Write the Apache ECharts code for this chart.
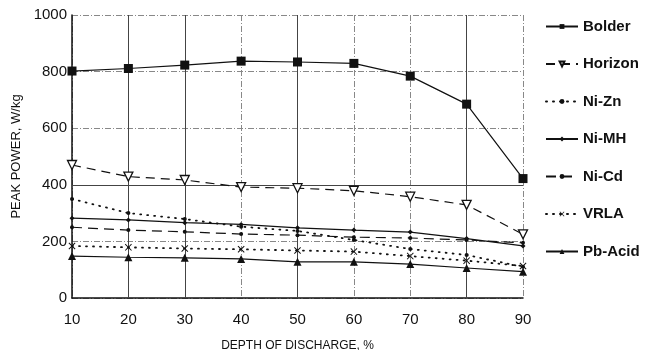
<!DOCTYPE html>
<html>
<head>
<meta charset="utf-8">
<script src="https://cdn.jsdelivr.net/npm/echarts@6/dist/echarts.min.js"></script>
<style>
  html, body { margin: 0; padding: 0; background: #fff; }
  #chart { width: 653px; height: 350px; }
</style>
</head>
<body>
<div id="chart"></div>
<script>
// depth of discharge, %
const depth = [10, 20, 30, 40, 50, 60, 70, 80, 90];

// peak power, W/kg
const bolder  = [802, 811, 823, 837, 834, 829, 784, 685, 422];
const horizon = [470, 429, 417, 392, 388, 379, 358, 329, 225];
const niZn    = [350, 300, 279, 252, 237, 205, 173, 152, 110];
const niMH    = [282, 276, 266, 260, 248, 240, 233, 210, 184];
const niCd    = [250, 240, 234, 226, 222, 215, 212, 205, 195];
const vrla    = [184, 179, 175, 172, 168, 164, 148, 132, 113];
const pbAcid  = [148, 144, 142, 138, 128, 128, 120, 106, 93];

// grid lines drawn solid in the original, the rest are dash-dot
const solidX = [20, 30, 50, 80];
const solidY = [400];

const xCross = "path://M0,1L1,0L5,4L9,0L10,1L6,5L10,9L9,10L5,6L1,10L0,9L4,5Z";
const font = "Liberation Sans, Arial, sans-serif";

const pts = (arr) => depth.map((d, i) => [d, arr[i]]);

const mk = (name, arr, opts) => Object.assign({
  name,
  type: "line",
  data: pts(arr),
  symbolSize: 4,
  symbol: "circle",
  itemStyle: { color: "#111" },
  lineStyle: { color: "#111", width: 1.2 },
  z: 5,
}, opts);

const chart = echarts.init(document.getElementById("chart"), null, { renderer: "canvas" });

chart.setOption({
  animation: false,
  backgroundColor: "#fff",
  textStyle: { fontFamily: font },
  grid: { left: 72, right: 130, top: 15, bottom: 52, outerBoundsMode: "none" },
  legend: {
    orient: "vertical",
    left: 540,
    top: 14,
    itemWidth: 32,
    itemHeight: 6,
    itemGap: 22.5,
    textStyle: { fontFamily: font, fontWeight: "bold", fontSize: 15, color: "#111" },
    data: ["Bolder", "Horizon", "Ni-Zn", "Ni-MH", "Ni-Cd", "VRLA", "Pb-Acid"],
  },
  xAxis: {
    type: "value",
    min: 10,
    max: 90,
    interval: 10,
    name: "DEPTH OF DISCHARGE, %",
    nameLocation: "middle",
    nameGap: 42,
    nameTextStyle: { fontSize: 12, color: "#111", fontFamily: font },
    axisLine: { lineStyle: { color: "#111", width: 1.5 } },
    axisTick: { show: false },
    axisLabel: { fontSize: 15, color: "#111", margin: 14, fontFamily: font },
    splitLine: { lineStyle: { color: "#888", width: 1, type: [6, 2, 1, 2] } },
  },
  yAxis: {
    type: "value",
    min: 0,
    max: 1000,
    interval: 200,
    name: "PEAK POWER, W/kg",
    nameLocation: "middle",
    nameGap: 42,
    nameTextStyle: { fontSize: 13, color: "#111", fontFamily: font },
    axisLine: { show: true, lineStyle: { color: "#111", width: 1.5 } },
    axisTick: { show: false },
    axisLabel: { fontSize: 15, color: "#111", margin: 5, fontFamily: font, formatter: (v) => String(v) },
    splitLine: { lineStyle: { color: "#888", width: 1, type: [6, 2, 1, 2] } },
  },
  series: [
    {
      name: "grid",
      type: "line",
      data: [],
      silent: true,
      markLine: {
        symbol: "none",
        silent: true,
        label: { show: false },
        lineStyle: { color: "#444", type: "solid", width: 1 },
        data: solidX.map((v) => ({ xAxis: v })).concat(solidY.map((v) => ({ yAxis: v }))),
      },
    },
    mk("Bolder", bolder, { symbol: "rect", symbolSize: 9 }),
    mk("Horizon", horizon, {
      symbol: "triangle", symbolSize: 9, symbolRotate: 180,
      itemStyle: { color: "#fff", borderColor: "#111", borderWidth: 1.3 },
      lineStyle: { color: "#111", width: 1.2, type: [9, 6] },
    }),
    mk("Ni-Zn", niZn, {
      symbolSize: 4,
      lineStyle: { color: "#111", width: 1.8, type: [1, 6], cap: "round" },
    }),
    mk("Ni-MH", niMH, { symbol: "diamond", symbolSize: 5 }),
    mk("Ni-Cd", niCd, {
      symbolSize: 4,
      lineStyle: { color: "#111", width: 1.2, type: [10, 6] },
    }),
    mk("VRLA", vrla, {
      symbol: xCross, symbolSize: 7,
      lineStyle: { color: "#111", width: 1.8, type: [1, 6], cap: "round" },
    }),
    mk("Pb-Acid", pbAcid, { symbol: "triangle", symbolSize: 8 }),
  ],
});
</script>
</body>
</html>
